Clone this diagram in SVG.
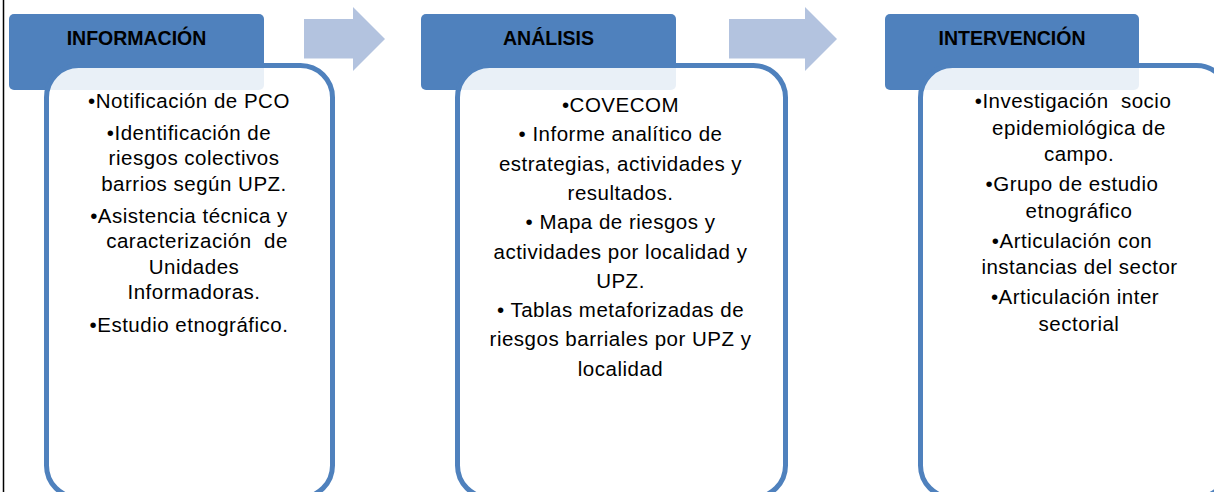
<svg xmlns="http://www.w3.org/2000/svg" width="1214" height="492" viewBox="0 0 1214 492">
<style>
.hdr{fill:#4F81BD}
.box{fill:#FFFFFF;fill-opacity:0.88;stroke:#4F81BD;stroke-width:5}
.ht{font-family:"Liberation Sans",Arial,sans-serif;font-weight:bold;font-size:19.5px;fill:#000;text-anchor:middle}
.bt{font-family:"Liberation Sans",Arial,sans-serif;font-size:20.5px;letter-spacing:0.5px;fill:#000;text-anchor:middle;white-space:pre}
.arr{fill:#B3C3DF}
</style>
<rect width="1214" height="492" fill="#FFFFFF"/>
<line x1="3.5" y1="0" x2="3.5" y2="492" stroke="#000" stroke-width="1.5"/>
<g id="connectors">
<polygon class="arr" points="304,19 353,19 353,7 385,39 353,71 353,58.5 304,58.5"/>
<polygon class="arr" points="729,19 805,19 805,7 837,39 805,71 805,58.5 729,58.5"/>
</g>
<g id="node-informacion">
<rect class="hdr" x="9" y="14" width="255" height="76" rx="5"/>
<text class="ht" x="136.5" y="45">INFORMACIÓN</text>
<rect class="box" x="46.5" y="65.5" width="286" height="432" rx="32"/>
<text class="bt" x="189" y="108">•Notificación de PCO</text>
<text class="bt" x="189" y="139.5">•Identificación de</text>
<text class="bt" x="194" y="165">riesgos colectivos</text>
<text class="bt" x="194" y="190.5">barrios según UPZ.</text>
<text class="bt" x="189" y="222.5">•Asistencia técnica y</text>
<text class="bt" x="197" y="248" xml:space="preserve">caracterización  de</text>
<text class="bt" x="194" y="273.5">Unidades</text>
<text class="bt" x="194" y="299">Informadoras.</text>
<text class="bt" x="189" y="331.5">•Estudio etnográfico.</text>
</g>
<g id="node-analisis">
<rect class="hdr" x="421" y="14" width="255" height="76" rx="5"/>
<text class="ht" x="548.5" y="45">ANÁLISIS</text>
<rect class="box" x="457.5" y="65.5" width="328" height="432" rx="32"/>
<text class="bt" x="620.5" y="112">•COVECOM</text>
<text class="bt" x="620.5" y="141.3">• Informe analítico de</text>
<text class="bt" x="620.5" y="170.6">estrategias, actividades y</text>
<text class="bt" x="620.5" y="199.9">resultados.</text>
<text class="bt" x="620.5" y="229.2">• Mapa de riesgos y</text>
<text class="bt" x="620.5" y="258.5">actividades por localidad y</text>
<text class="bt" x="620.5" y="287.8">UPZ.</text>
<text class="bt" x="620.5" y="317.1">• Tablas metaforizadas de</text>
<text class="bt" x="620.5" y="346.4">riesgos barriales por UPZ y</text>
<text class="bt" x="620.5" y="375.7">localidad</text>
</g>
<g id="node-intervencion">
<rect class="hdr" x="885" y="14" width="254" height="76" rx="5"/>
<text class="ht" x="1012" y="45">INTERVENCIÓN</text>
<rect class="box" x="920.5" y="65.5" width="308" height="432" rx="32"/>
<text class="bt" x="1073" y="108" xml:space="preserve">•Investigación  socio</text>
<text class="bt" x="1079" y="134.5">epidemiológica de</text>
<text class="bt" x="1079" y="161">campo.</text>
<text class="bt" x="1072" y="191">•Grupo de estudio</text>
<text class="bt" x="1079" y="217.5">etnográfico</text>
<text class="bt" x="1072" y="247.5">•Articulación con</text>
<text class="bt" x="1079.5" y="274">instancias del sector</text>
<text class="bt" x="1075" y="304">•Articulación inter</text>
<text class="bt" x="1079" y="330.5">sectorial</text>
</g>
</svg>
